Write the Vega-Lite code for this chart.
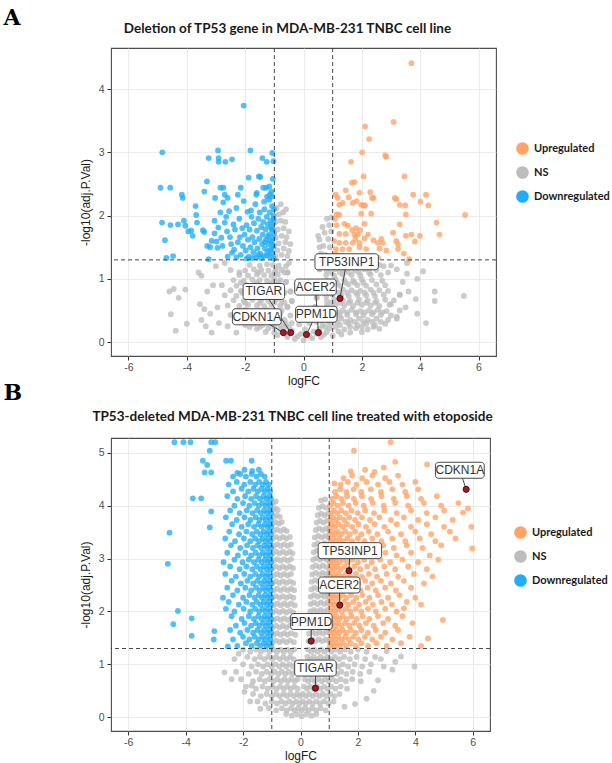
{
"$schema":"https://vega.github.io/schema/vega-lite/v6.json",
"background":"white",
"padding":{"left":3,"top":6,"right":0,"bottom":3},
"config":{
 "font":"Liberation Sans",
 "view":{"stroke":"#4d4d4d","strokeWidth":1.1},
 "axis":{"domain":false,"tickColor":"#333333","tickSize":4,"labelColor":"#4d4d4d","labelFontSize":10.5,"labelFont":"Liberation Sans","titleFont":"Liberation Sans","titleFontSize":12,"titleFontWeight":"normal","titleColor":"#1a1a1a","gridWidth":0.8,"labelOverlap":false},
 "legend":{"labelFont":"Lato","labelFontSize":11,"labelFontWeight":"bold","labelColor":"#1a1a1a"},
 "concat":{"spacing":-7}
},
"datasets":{
"a":[
{"x":-0.55,"y":0.08},{"x":-0.3,"y":0.05},{"x":0,"y":0.03},{"x":0.3,"y":0.06},{"x":0.6,"y":0.08},
{"x":-0.9,"y":0.11},{"x":-0.6,"y":0.12},{"x":-0.2,"y":0.09},{"x":-0.1,"y":0.13},{"x":0.2,"y":0.1},{"x":0.45,"y":0.13},{"x":0.7,"y":0.12},{"x":1,"y":0.1},{"x":1.3,"y":0.12},
{"x":-1.3,"y":0.16},{"x":-1,"y":0.15},{"x":-0.4,"y":0.18},{"x":0.35,"y":0.17},{"x":0.8,"y":0.16},{"x":1.2,"y":0.17},{"x":1.6,"y":0.15},{"x":2,"y":0.16},
{"x":-1.6,"y":0.21},{"x":-1.2,"y":0.22},{"x":-0.8,"y":0.2},{"x":-0.5,"y":0.23},{"x":0.05,"y":0.2},{"x":0.55,"y":0.21},{"x":0.9,"y":0.22},{"x":1.4,"y":0.2},{"x":1.8,"y":0.22},{"x":2.2,"y":0.2},{"x":2.6,"y":0.21},
{"x":-2,"y":0.27},{"x":-1.7,"y":0.29},{"x":-1.4,"y":0.27},{"x":-1.1,"y":0.29},{"x":-0.8,"y":0.27},{"x":-0.6,"y":0.29},{"x":-0.4,"y":0.3},{"x":-0.15,"y":0.28},{"x":0.2,"y":0.3},{"x":0.45,"y":0.32},{"x":0.65,"y":0.27},{"x":0.95,"y":0.29},{"x":1.25,"y":0.27},{"x":1.55,"y":0.29},{"x":1.85,"y":0.27},{"x":2.15,"y":0.29},{"x":2.45,"y":0.27},{"x":2.8,"y":0.29},
{"x":-2.2,"y":0.35},{"x":-1.9,"y":0.37},{"x":-1.6,"y":0.35},{"x":-1.35,"y":0.37},{"x":-1.1,"y":0.35},{"x":-0.85,"y":0.37},{"x":-0.65,"y":0.35},{"x":0.7,"y":0.37},{"x":1,"y":0.35},{"x":1.3,"y":0.37},{"x":1.6,"y":0.35},{"x":1.9,"y":0.37},{"x":2.2,"y":0.35},{"x":2.5,"y":0.37},{"x":2.9,"y":0.35},{"x":3.2,"y":0.37},
{"x":-2.5,"y":0.43},{"x":-2.1,"y":0.44},{"x":-1.8,"y":0.42},{"x":-1.55,"y":0.44},{"x":-1.3,"y":0.43},{"x":-1.05,"y":0.42},{"x":-0.8,"y":0.44},{"x":-0.45,"y":0.42},{"x":0.4,"y":0.41},{"x":0.72,"y":0.43},{"x":1,"y":0.44},{"x":1.25,"y":0.42},{"x":1.5,"y":0.43},{"x":1.8,"y":0.44},{"x":2.05,"y":0.42},{"x":2.35,"y":0.44},{"x":2.65,"y":0.43},{"x":3,"y":0.42},
{"x":-2.3,"y":0.5},{"x":-2,"y":0.51},{"x":-1.75,"y":0.49},{"x":-1.5,"y":0.5},{"x":-1.25,"y":0.51},{"x":-1,"y":0.49},{"x":-0.75,"y":0.5},{"x":0.75,"y":0.51},{"x":1.05,"y":0.49},{"x":1.35,"y":0.5},{"x":1.65,"y":0.51},{"x":1.95,"y":0.49},{"x":2.25,"y":0.5},{"x":2.55,"y":0.51},{"x":2.85,"y":0.49},{"x":3.3,"y":0.5},
{"x":-2.6,"y":0.58},{"x":-2.2,"y":0.57},{"x":-1.9,"y":0.59},{"x":-1.6,"y":0.58},{"x":-1.35,"y":0.57},{"x":-1.1,"y":0.59},{"x":-0.8,"y":0.58},{"x":-0.55,"y":0.56},{"x":0.4,"y":0.56},{"x":0.8,"y":0.57},{"x":1.1,"y":0.59},{"x":1.4,"y":0.58},{"x":1.7,"y":0.57},{"x":2,"y":0.59},{"x":2.3,"y":0.58},{"x":2.6,"y":0.57},{"x":2.95,"y":0.59},
{"x":-2.4,"y":0.66},{"x":-2.05,"y":0.65},{"x":-1.75,"y":0.67},{"x":-1.45,"y":0.66},{"x":-1.2,"y":0.65},{"x":-0.95,"y":0.67},{"x":-0.75,"y":0.66},{"x":-0.4,"y":0.65},{"x":0.45,"y":0.7},{"x":0.8,"y":0.65},{"x":1.05,"y":0.67},{"x":1.35,"y":0.66},{"x":1.6,"y":0.65},{"x":1.9,"y":0.67},{"x":2.2,"y":0.66},{"x":2.5,"y":0.65},{"x":2.8,"y":0.67},{"x":3.1,"y":0.66},
{"x":-2.7,"y":0.74},{"x":-2.3,"y":0.73},{"x":-1.95,"y":0.75},{"x":-1.65,"y":0.74},{"x":-1.4,"y":0.73},{"x":-1.15,"y":0.75},{"x":-0.9,"y":0.74},{"x":0.78,"y":0.73},{"x":1,"y":0.75},{"x":1.3,"y":0.74},{"x":1.55,"y":0.73},{"x":1.85,"y":0.75},{"x":2.15,"y":0.74},{"x":2.45,"y":0.73},{"x":2.75,"y":0.75},{"x":3.3,"y":0.75},
{"x":-2.5,"y":0.82},{"x":-2.15,"y":0.81},{"x":-1.85,"y":0.83},{"x":-1.55,"y":0.82},{"x":-1.3,"y":0.81},{"x":-1.05,"y":0.83},{"x":-0.8,"y":0.82},{"x":-0.45,"y":0.8},{"x":0.6,"y":0.8},{"x":0.8,"y":0.82},{"x":1.05,"y":0.81},{"x":1.35,"y":0.83},{"x":1.65,"y":0.82},{"x":1.95,"y":0.81},{"x":2.3,"y":0.83},{"x":2.6,"y":0.82},{"x":2.9,"y":0.81},
{"x":-2.8,"y":0.9},{"x":-2.3,"y":0.89},{"x":-2,"y":0.91},{"x":-1.7,"y":0.9},{"x":-1.45,"y":0.89},{"x":-1.2,"y":0.91},{"x":-0.95,"y":0.9},{"x":-0.75,"y":0.89},{"x":0.75,"y":0.91},{"x":1,"y":0.9},{"x":1.25,"y":0.89},{"x":1.55,"y":0.91},{"x":1.85,"y":0.9},{"x":2.15,"y":0.89},{"x":2.5,"y":0.91},{"x":2.8,"y":0.9},
{"x":-2.4,"y":0.98},{"x":-2.05,"y":0.97},{"x":-1.75,"y":0.99},{"x":-1.5,"y":0.98},{"x":-1.25,"y":0.97},{"x":-1,"y":0.99},{"x":-0.8,"y":0.98},{"x":-0.6,"y":0.95},{"x":0.5,"y":0.95},{"x":0.8,"y":0.97},{"x":1.1,"y":0.99},{"x":1.4,"y":0.98},{"x":1.7,"y":0.97},{"x":2,"y":0.99},{"x":2.35,"y":0.98},{"x":2.7,"y":0.97},
{"x":-2.2,"y":1.06},{"x":-1.9,"y":1.05},{"x":-1.6,"y":1.07},{"x":-1.35,"y":1.06},{"x":-1.1,"y":1.05},{"x":-0.88,"y":1.07},{"x":0.78,"y":1.06},{"x":1.05,"y":1.05},{"x":1.35,"y":1.07},{"x":1.65,"y":1.06},{"x":1.95,"y":1.05},{"x":2.3,"y":1.07},{"x":2.65,"y":1.06},
{"x":-2.5,"y":1.14},{"x":-2,"y":1.13},{"x":-1.7,"y":1.15},{"x":-1.45,"y":1.14},{"x":-1.2,"y":1.13},{"x":-0.95,"y":1.15},{"x":-0.75,"y":1.14},{"x":-0.55,"y":1.1},{"x":0.55,"y":1.15},{"x":0.8,"y":1.13},{"x":1.1,"y":1.15},{"x":1.4,"y":1.14},{"x":1.75,"y":1.13},{"x":2.1,"y":1.15},{"x":2.5,"y":1.14},
{"x":-1.85,"y":1.22},{"x":-1.5,"y":1.21},{"x":-1.25,"y":1.23},{"x":-1.05,"y":1.22},{"x":-0.85,"y":1.21},{"x":-0.6,"y":1.2},{"x":-0.5,"y":1.25},{"x":0.5,"y":1.25},{"x":0.75,"y":1.22},{"x":1,"y":1.21},{"x":1.3,"y":1.23},{"x":1.6,"y":1.22},{"x":1.9,"y":1.21},{"x":2.2,"y":1.23},{"x":2.6,"y":1.22},{"x":3,"y":1.21},
{"x":-1.85,"y":0.24},{"x":-1.5,"y":0.24},{"x":-1,"y":0.24},{"x":-0.65,"y":0.24},{"x":0.75,"y":0.24},{"x":1.1,"y":0.24},{"x":1.6,"y":0.24},{"x":2,"y":0.24},{"x":2.4,"y":0.24},
{"x":-1.75,"y":0.32},{"x":-1.25,"y":0.32},{"x":-0.95,"y":0.32},{"x":0.85,"y":0.32},{"x":1.15,"y":0.32},{"x":1.45,"y":0.32},{"x":1.75,"y":0.32},{"x":2.05,"y":0.32},{"x":2.35,"y":0.32},{"x":2.65,"y":0.32},
{"x":-2.15,"y":0.47},{"x":-1.6,"y":0.47},{"x":-1.15,"y":0.47},{"x":-0.9,"y":0.47},{"x":0.9,"y":0.47},{"x":1.2,"y":0.47},{"x":1.5,"y":0.47},{"x":1.8,"y":0.47},{"x":2.1,"y":0.47},{"x":2.4,"y":0.47},{"x":2.7,"y":0.47},
{"x":-2,"y":0.62},{"x":-1.5,"y":0.62},{"x":-1,"y":0.62},{"x":-0.65,"y":0.62},{"x":0.95,"y":0.62},{"x":1.25,"y":0.62},{"x":1.55,"y":0.62},{"x":1.85,"y":0.62},{"x":2.15,"y":0.62},{"x":2.45,"y":0.62},
{"x":-2.1,"y":0.78},{"x":-1.55,"y":0.78},{"x":-1,"y":0.78},{"x":-0.65,"y":0.78},{"x":0.9,"y":0.78},{"x":1.2,"y":0.78},{"x":1.5,"y":0.78},{"x":1.8,"y":0.78},{"x":2.1,"y":0.78},{"x":2.4,"y":0.78},
{"x":-2.15,"y":0.94},{"x":-1.6,"y":0.94},{"x":-1.1,"y":0.94},{"x":-0.85,"y":0.94},{"x":0.9,"y":0.94},{"x":1.15,"y":0.94},{"x":1.45,"y":0.94},{"x":1.75,"y":0.94},{"x":2.05,"y":0.94},
{"x":-2.2,"y":1.1},{"x":-1.55,"y":1.1},{"x":-1,"y":1.1},{"x":-0.65,"y":1.1},{"x":0.95,"y":1.1},{"x":1.25,"y":1.1},{"x":1.55,"y":1.1},{"x":1.9,"y":1.1},{"x":2.25,"y":1.1},
{"x":-0.95,"y":1.35},{"x":-0.75,"y":1.38},{"x":-0.55,"y":1.36},{"x":-0.9,"y":1.45},{"x":-0.68,"y":1.48},{"x":-0.5,"y":1.44},{"x":-0.85,"y":1.56},{"x":-0.62,"y":1.58},{"x":-0.95,"y":1.65},{"x":-0.75,"y":1.68},{"x":-0.58,"y":1.66},{"x":-0.88,"y":1.78},{"x":-0.68,"y":1.8},{"x":-0.95,"y":1.9},{"x":-0.78,"y":1.92},{"x":-0.62,"y":1.9},{"x":-0.85,"y":2.02},{"x":-0.7,"y":2.05},{"x":-0.92,"y":2.12},{"x":-0.78,"y":2.18},{"x":-0.6,"y":2.1},{"x":-0.45,"y":1.55},{"x":-0.5,"y":1.75},
{"x":-0.6,"y":0.95},{"x":-0.55,"y":1.1},{"x":-0.45,"y":0.8},{"x":-0.4,"y":0.65},{"x":-0.55,"y":0.55},
{"x":0.95,"y":1.35},{"x":0.75,"y":1.38},{"x":0.6,"y":1.4},{"x":0.9,"y":1.5},{"x":0.68,"y":1.52},{"x":0.55,"y":1.62},{"x":0.85,"y":1.63},{"x":0.95,"y":1.75},{"x":0.72,"y":1.73},{"x":0.88,"y":1.85},{"x":0.65,"y":1.82},{"x":0.95,"y":1.97},{"x":0.8,"y":1.95},{"x":0.55,"y":1.5},{"x":0.5,"y":1.68},
{"x":0.55,"y":1.15},{"x":0.5,"y":0.95},{"x":0.6,"y":0.8},{"x":0.45,"y":0.7},{"x":0.4,"y":0.55},
{"x":3.2,"y":1.15},{"x":3.4,"y":0.95},{"x":3.3,"y":0.75},{"x":3,"y":0.6},{"x":3.5,"y":0.55},{"x":2.9,"y":1.1},{"x":3.2,"y":0.4},{"x":3.6,"y":0.8},{"x":2.75,"y":1.2},{"x":3.55,"y":1.08},
{"x":3.9,"y":1},{"x":4.1,"y":1.12},{"x":3.55,"y":1.25},{"x":4.5,"y":0.8},{"x":4.5,"y":0.65},{"x":5.5,"y":0.73},{"x":3.85,"y":0.68},{"x":3.9,"y":0.45},{"x":4.2,"y":0.3},
{"x":-4.6,"y":0.8},{"x":-4.45,"y":0.84},{"x":-4.28,"y":0.7},{"x":-4.05,"y":0.83},{"x":-4.55,"y":0.44},{"x":-4.38,"y":0.18},{"x":-4,"y":0.29},{"x":-3.6,"y":1.1},{"x":-3.5,"y":1.05},{"x":-3.4,"y":0.52},{"x":-3.3,"y":0.8},{"x":-3.2,"y":0.45},{"x":-3.55,"y":0.6},{"x":-3,"y":1.2},{"x":-3.1,"y":0.9},{"x":-2.95,"y":0.55},{"x":-3.35,"y":0.25},{"x":-2.9,"y":0.3},{"x":-3.15,"y":0.15},{"x":-2.7,"y":1.25},{"x":-2.6,"y":0.25},{"x":-2.3,"y":0.15},{"x":-3.5,"y":0.35},
{"x":-2.05,"y":3.74},{"x":-4.84,"y":3},{"x":-2.93,"y":3.03},{"x":-3.25,"y":2.91},{"x":-2.91,"y":2.91},{"x":-2.91,"y":2.85},{"x":-2.68,"y":2.85},{"x":-2.45,"y":2.89},{"x":-1.82,"y":3.03},{"x":-1.41,"y":2.91},{"x":-1.26,"y":2.85},{"x":-1.07,"y":2.99},{"x":-1.03,"y":2.86},{"x":-4.9,"y":2.44},{"x":-4.57,"y":2.44},{"x":-4.17,"y":2.33},{"x":-4.14,"y":2.28},{"x":-3.31,"y":2.54},{"x":-3.4,"y":2.38},{"x":-3.03,"y":2.28},{"x":-2.85,"y":2.44},{"x":-2.75,"y":2.44},{"x":-2.7,"y":2.33},{"x":-2.6,"y":2.28},{"x":-2.25,"y":2.33},{"x":-2.15,"y":2.44},{"x":-1.88,"y":2.6},{"x":-1.53,"y":2.62},{"x":-1.48,"y":2.61},{"x":-1.38,"y":2.44},{"x":-1.28,"y":2.44},{"x":-1.17,"y":2.46},{"x":-1.1,"y":2.38},{"x":-1.05,"y":2.58},{"x":-1.6,"y":2.36},{"x":-1.62,"y":2.33},{"x":-1.25,"y":2.3},{"x":-1.18,"y":2.25},{"x":-1.35,"y":2.22},
{"x":-4.85,"y":1.89},{"x":-4.56,"y":1.85},{"x":-4.3,"y":1.86},{"x":-4.1,"y":1.92},{"x":-4.05,"y":1.84},{"x":-4.75,"y":1.61},{"x":-4.7,"y":1.33},{"x":-4.47,"y":1.36},{"x":-3.95,"y":1.75},{"x":-3.85,"y":1.76},{"x":-3.8,"y":1.68},{"x":-3.7,"y":2.15},{"x":-3.68,"y":2.01},{"x":-3.65,"y":1.89},{"x":-3.45,"y":1.77},{"x":-3.4,"y":1.74},{"x":-3.3,"y":1.52},{"x":-3.25,"y":1.31},{"x":-3.2,"y":1.5},{"x":-3.15,"y":1.6},{"x":-3.05,"y":1.92},{"x":-3.05,"y":1.72},{"x":-2.98,"y":1.59},{"x":-2.95,"y":1.49},{"x":-2.92,"y":1.81},{"x":-2.85,"y":2.05},{"x":-2.82,"y":1.65},{"x":-2.78,"y":1.52},{"x":-2.75,"y":2.21},{"x":-2.7,"y":1.89},{"x":-2.65,"y":1.98},{"x":-2.62,"y":1.75},{"x":-2.55,"y":2.07},{"x":-2.52,"y":1.66},{"x":-2.48,"y":1.55},{"x":-2.45,"y":1.41},{"x":-2.4,"y":1.86},{"x":-2.38,"y":1.46},{"x":-2.35,"y":1.78},{"x":-2.3,"y":2.12},{"x":-2.25,"y":1.58},{"x":-2.2,"y":1.95},{"x":-2.18,"y":1.66},{"x":-2.15,"y":1.38},{"x":-2.1,"y":1.8},{"x":-2.08,"y":1.52},{"x":-2.05,"y":2.23},{"x":-2.02,"y":1.7},{"x":-1.98,"y":1.45},{"x":-1.95,"y":1.85},{"x":-1.92,"y":2.06},{"x":-1.9,"y":1.62},{"x":-1.88,"y":1.35},{"x":-1.85,"y":1.78},{"x":-1.82,"y":1.5},{"x":-1.8,"y":2.08},{"x":-1.78,"y":1.98},{"x":-1.75,"y":1.66},{"x":-1.72,"y":1.42},{"x":-1.7,"y":1.88},{"x":-1.68,"y":1.58},{"x":-1.65,"y":2.18},{"x":-1.62,"y":1.34},{"x":-1.6,"y":1.76},{"x":-1.58,"y":1.48},{"x":-1.55,"y":1.95},{"x":-1.52,"y":1.63},{"x":-1.5,"y":2.05},{"x":-1.48,"y":1.4},{"x":-1.45,"y":1.82},{"x":-1.42,"y":1.55},{"x":-1.4,"y":1.7},{"x":-1.38,"y":1.9},{"x":-1.36,"y":1.36},{"x":-1.34,"y":2.1},{"x":-1.32,"y":1.48},{"x":-1.3,"y":1.78},{"x":-1.28,"y":1.62},{"x":-1.26,"y":1.98},{"x":-1.24,"y":1.42},{"x":-1.22,"y":1.86},{"x":-1.2,"y":1.55},{"x":-1.18,"y":1.7},{"x":-1.16,"y":2.05},{"x":-1.15,"y":1.35},{"x":-1.13,"y":1.92},{"x":-1.12,"y":1.6},{"x":-1.1,"y":1.48},{"x":-1.09,"y":1.78},{"x":-1.08,"y":2.15},{"x":-1.06,"y":1.4},{"x":-1.05,"y":1.65},{"x":-1.04,"y":1.88},{"x":-1.03,"y":2},{"x":-1.02,"y":1.52},{"x":-1.02,"y":1.32},{"x":-1.01,"y":2.1},{"x":-1.01,"y":1.72},{"x":-1.08,"y":1.57},{"x":-1.14,"y":1.45},{"x":-1.25,"y":1.37},{"x":-1.45,"y":1.33},{"x":-1.55,"y":1.38},{"x":-1.75,"y":1.33},{"x":-1.95,"y":1.32},{"x":-2.3,"y":1.34},{"x":-2.6,"y":1.35},{"x":-1.02,"y":1.95},{"x":-1.05,"y":1.78},{"x":-1.12,"y":1.82},{"x":-1.22,"y":1.67},{"x":-1.33,"y":1.58},{"x":-1.15,"y":2.33},{"x":-1.08,"y":2.3},
{"x":3.7,"y":4.41},{"x":3.09,"y":3.48},{"x":2.11,"y":3.41},{"x":2.25,"y":3.21},{"x":2.01,"y":3},{"x":2.84,"y":2.93},{"x":2.8,"y":2.95},{"x":1.63,"y":2.85},{"x":2.06,"y":2.62},{"x":1.75,"y":2.53},{"x":1.66,"y":2.52},{"x":3.46,"y":2.62},{"x":1.11,"y":2.33},{"x":1.17,"y":2.28},{"x":1.55,"y":2.29},{"x":1.92,"y":2.36},{"x":2.29,"y":2.37},{"x":2.4,"y":2.28},{"x":2.35,"y":2.28},{"x":3.76,"y":2.33},{"x":4.2,"y":2.33},{"x":4.01,"y":2.22},{"x":4.28,"y":2.16},{"x":3.13,"y":2.28},{"x":3.18,"y":2.26},{"x":3.3,"y":2.17},{"x":3.49,"y":2.16},{"x":3.51,"y":2.02},{"x":1.82,"y":2.23},{"x":1.98,"y":2.17},{"x":2.06,"y":2.16},{"x":2.11,"y":2.16},{"x":1.23,"y":2.17},{"x":1.34,"y":2.2},{"x":1.69,"y":2.2},{"x":2.32,"y":2.03},{"x":1.98,"y":2.03},{"x":1.14,"y":2.02},{"x":1.23,"y":2.01},{"x":1.14,"y":1.85},{"x":1.4,"y":1.87},{"x":1.52,"y":1.84},{"x":1.67,"y":1.77},{"x":1.8,"y":1.8},{"x":2.09,"y":1.87},{"x":1.94,"y":1.77},{"x":3.3,"y":1.86},{"x":4.56,"y":1.89},{"x":5.54,"y":2.01},{"x":4.66,"y":1.7},{"x":3.07,"y":1.73},{"x":3.51,"y":1.68},{"x":3.7,"y":1.7},{"x":3.99,"y":1.68},{"x":3.82,"y":1.59},{"x":1.23,"y":1.71},{"x":1.45,"y":1.71},{"x":1.75,"y":1.7},{"x":1.86,"y":1.7},{"x":1.78,"y":1.63},{"x":2.09,"y":1.64},{"x":2.21,"y":1.7},{"x":1.23,"y":1.57},{"x":1.45,"y":1.57},{"x":1.69,"y":1.57},{"x":1.92,"y":1.57},{"x":2.4,"y":1.61},{"x":2.55,"y":1.57},{"x":2.67,"y":1.63},{"x":2.72,"y":1.57},{"x":3.18,"y":1.6},{"x":3.24,"y":1.55},{"x":1.11,"y":1.47},{"x":1.34,"y":1.47},{"x":1.57,"y":1.47},{"x":1.92,"y":1.5},{"x":2.15,"y":1.47},{"x":2.61,"y":1.48},{"x":2.84,"y":1.45},{"x":3.24,"y":1.47},{"x":3.44,"y":1.4},{"x":3.62,"y":1.31},{"x":2.55,"y":1.34},{"x":1.11,"y":1.39},{"x":1.29,"y":1.36},{"x":1.05,"y":1.6},{"x":1.08,"y":1.95},{"x":1.45,"y":2.4}
],
"b":[
{"x":-0.95,"y":4.05},{"x":-0.86,"y":4.08},
{"x":-0.97,"y":3.92},{"x":-0.88,"y":3.95},{"x":-0.79,"y":3.92},
{"x":-0.93,"y":3.79},{"x":-0.83,"y":3.82},{"x":-0.72,"y":3.79},
{"x":-0.97,"y":3.66},{"x":-0.86,"y":3.69},{"x":-0.75,"y":3.66},{"x":-0.65,"y":3.69},
{"x":-0.93,"y":3.52},{"x":-0.82,"y":3.55},{"x":-0.7,"y":3.52},{"x":-0.58,"y":3.55},{"x":-0.48,"y":3.52},
{"x":-0.97,"y":3.38},{"x":-0.85,"y":3.41},{"x":-0.73,"y":3.38},{"x":-0.61,"y":3.41},{"x":-0.49,"y":3.38},{"x":-0.37,"y":3.41},
{"x":-0.93,"y":3.24},{"x":-0.81,"y":3.27},{"x":-0.69,"y":3.24},{"x":-0.57,"y":3.27},{"x":-0.45,"y":3.24},{"x":-0.33,"y":3.27},
{"x":-0.97,"y":3.1},{"x":-0.85,"y":3.13},{"x":-0.73,"y":3.1},{"x":-0.61,"y":3.13},{"x":-0.49,"y":3.1},{"x":-0.37,"y":3.13},{"x":-0.28,"y":3.1},
{"x":-0.93,"y":2.96},{"x":-0.81,"y":2.99},{"x":-0.69,"y":2.96},{"x":-0.57,"y":2.99},{"x":-0.45,"y":2.96},{"x":-0.33,"y":2.99},
{"x":-0.97,"y":2.82},{"x":-0.85,"y":2.85},{"x":-0.73,"y":2.82},{"x":-0.61,"y":2.85},{"x":-0.49,"y":2.82},{"x":-0.37,"y":2.85},{"x":-0.26,"y":2.82},
{"x":-0.93,"y":2.68},{"x":-0.81,"y":2.71},{"x":-0.69,"y":2.68},{"x":-0.57,"y":2.71},{"x":-0.45,"y":2.68},{"x":-0.33,"y":2.71},
{"x":-0.97,"y":2.54},{"x":-0.85,"y":2.57},{"x":-0.73,"y":2.54},{"x":-0.61,"y":2.57},{"x":-0.49,"y":2.54},{"x":-0.37,"y":2.57},{"x":-0.25,"y":2.54},
{"x":-0.93,"y":2.4},{"x":-0.81,"y":2.43},{"x":-0.69,"y":2.4},{"x":-0.57,"y":2.43},{"x":-0.45,"y":2.4},{"x":-0.33,"y":2.43},{"x":-0.22,"y":2.4},
{"x":-0.97,"y":2.26},{"x":-0.85,"y":2.29},{"x":-0.73,"y":2.26},{"x":-0.61,"y":2.29},{"x":-0.49,"y":2.26},{"x":-0.37,"y":2.29},{"x":-0.25,"y":2.26},
{"x":-0.93,"y":2.12},{"x":-0.81,"y":2.15},{"x":-0.69,"y":2.12},{"x":-0.57,"y":2.15},{"x":-0.45,"y":2.12},{"x":-0.33,"y":2.15},{"x":-0.2,"y":2.12},
{"x":-0.97,"y":1.98},{"x":-0.85,"y":2.01},{"x":-0.73,"y":1.98},{"x":-0.61,"y":2.01},{"x":-0.49,"y":1.98},{"x":-0.37,"y":2.01},{"x":-0.25,"y":1.98},
{"x":-0.93,"y":1.84},{"x":-0.81,"y":1.87},{"x":-0.69,"y":1.84},{"x":-0.57,"y":1.87},{"x":-0.45,"y":1.84},{"x":-0.33,"y":1.87},{"x":-0.19,"y":1.84},
{"x":-0.97,"y":1.7},{"x":-0.85,"y":1.73},{"x":-0.73,"y":1.7},{"x":-0.61,"y":1.73},{"x":-0.49,"y":1.7},{"x":-0.37,"y":1.73},{"x":-0.24,"y":1.7},
{"x":-0.93,"y":1.56},{"x":-0.81,"y":1.59},{"x":-0.69,"y":1.56},{"x":-0.57,"y":1.59},{"x":-0.45,"y":1.56},{"x":-0.33,"y":1.59},{"x":-0.18,"y":1.56},
{"x":-0.97,"y":1.42},{"x":-0.85,"y":1.45},{"x":-0.73,"y":1.42},{"x":-0.61,"y":1.45},{"x":-0.49,"y":1.42},{"x":-0.37,"y":1.45},{"x":-0.23,"y":1.42},
{"x":0.72,"y":4.1},{"x":0.86,"y":4.12},
{"x":0.64,"y":3.96},{"x":0.77,"y":3.99},{"x":0.9,"y":3.96},
{"x":0.6,"y":3.82},{"x":0.72,"y":3.85},{"x":0.84,"y":3.82},{"x":0.96,"y":3.85},
{"x":0.56,"y":3.68},{"x":0.68,"y":3.71},{"x":0.8,"y":3.68},{"x":0.92,"y":3.71},
{"x":0.53,"y":3.54},{"x":0.65,"y":3.57},{"x":0.77,"y":3.54},{"x":0.89,"y":3.57},{"x":0.98,"y":3.54},
{"x":0.5,"y":3.4},{"x":0.62,"y":3.43},{"x":0.74,"y":3.4},{"x":0.86,"y":3.43},{"x":0.97,"y":3.4},
{"x":0.48,"y":3.26},{"x":0.6,"y":3.29},{"x":0.72,"y":3.26},{"x":0.84,"y":3.29},{"x":0.95,"y":3.26},
{"x":0.46,"y":3.12},{"x":0.58,"y":3.15},{"x":0.7,"y":3.12},{"x":0.82,"y":3.15},{"x":0.94,"y":3.12},
{"x":0.44,"y":2.98},{"x":0.56,"y":3.01},{"x":0.68,"y":2.98},{"x":0.8,"y":3.01},{"x":0.92,"y":2.98},
{"x":0.42,"y":2.84},{"x":0.54,"y":2.87},{"x":0.66,"y":2.84},{"x":0.78,"y":2.87},{"x":0.9,"y":2.84},
{"x":0.41,"y":2.7},{"x":0.53,"y":2.73},{"x":0.65,"y":2.7},{"x":0.77,"y":2.73},{"x":0.89,"y":2.7},{"x":0.98,"y":2.73},
{"x":0.39,"y":2.56},{"x":0.51,"y":2.59},{"x":0.63,"y":2.56},{"x":0.75,"y":2.59},{"x":0.87,"y":2.56},{"x":0.97,"y":2.59},
{"x":0.38,"y":2.42},{"x":0.5,"y":2.45},{"x":0.62,"y":2.42},{"x":0.74,"y":2.45},{"x":0.86,"y":2.42},{"x":0.96,"y":2.45},
{"x":0.36,"y":2.28},{"x":0.48,"y":2.31},{"x":0.6,"y":2.28},{"x":0.72,"y":2.31},{"x":0.84,"y":2.28},{"x":0.95,"y":2.31},
{"x":0.35,"y":2.14},{"x":0.47,"y":2.17},{"x":0.59,"y":2.14},{"x":0.71,"y":2.17},{"x":0.83,"y":2.14},{"x":0.94,"y":2.17},
{"x":0.34,"y":2},{"x":0.46,"y":2.03},{"x":0.58,"y":2},{"x":0.7,"y":2.03},{"x":0.82,"y":2},{"x":0.94,"y":2.03},
{"x":0.32,"y":1.86},{"x":0.44,"y":1.89},{"x":0.56,"y":1.86},{"x":0.68,"y":1.89},{"x":0.8,"y":1.86},{"x":0.92,"y":1.89},
{"x":0.31,"y":1.72},{"x":0.43,"y":1.75},{"x":0.55,"y":1.72},{"x":0.67,"y":1.75},{"x":0.79,"y":1.72},{"x":0.91,"y":1.75},
{"x":0.3,"y":1.58},{"x":0.42,"y":1.61},{"x":0.54,"y":1.58},{"x":0.66,"y":1.61},{"x":0.78,"y":1.58},{"x":0.9,"y":1.61},
{"x":0.28,"y":1.44},{"x":0.4,"y":1.47},{"x":0.52,"y":1.44},{"x":0.64,"y":1.47},{"x":0.76,"y":1.44},{"x":0.88,"y":1.47},{"x":0.98,"y":1.44},
{"x":-2,"y":1.28},{"x":-1.75,"y":1.24},{"x":-1.55,"y":1.28},{"x":-1.38,"y":1.24},{"x":-1.22,"y":1.28},{"x":-1.08,"y":1.24},{"x":-0.95,"y":1.28},{"x":-0.82,"y":1.24},{"x":-0.7,"y":1.28},{"x":-0.58,"y":1.24},{"x":-0.46,"y":1.28},{"x":-0.34,"y":1.24},{"x":-0.22,"y":1.28},{"x":0.26,"y":1.28},{"x":0.37,"y":1.24},{"x":0.48,"y":1.28},{"x":0.6,"y":1.24},{"x":0.72,"y":1.28},{"x":0.84,"y":1.24},{"x":0.96,"y":1.28},{"x":1.08,"y":1.24},{"x":1.22,"y":1.28},{"x":1.38,"y":1.24},{"x":1.55,"y":1.28},{"x":1.75,"y":1.24},{"x":2,"y":1.28},{"x":2.3,"y":1.24},
{"x":-1.85,"y":1.14},{"x":-1.6,"y":1.1},{"x":-1.42,"y":1.14},{"x":-1.26,"y":1.1},{"x":-1.12,"y":1.14},{"x":-0.98,"y":1.1},{"x":-0.85,"y":1.14},{"x":-0.72,"y":1.1},{"x":-0.6,"y":1.14},{"x":-0.48,"y":1.1},{"x":-0.36,"y":1.14},{"x":-0.24,"y":1.1},{"x":0.24,"y":1.14},{"x":0.35,"y":1.1},{"x":0.46,"y":1.14},{"x":0.58,"y":1.1},{"x":0.7,"y":1.14},{"x":0.82,"y":1.1},{"x":0.94,"y":1.14},{"x":1.06,"y":1.1},{"x":1.2,"y":1.14},{"x":1.35,"y":1.1},{"x":1.52,"y":1.14},{"x":1.72,"y":1.1},{"x":1.95,"y":1.14},{"x":2.25,"y":1.1},{"x":2.6,"y":1.14},
{"x":-2,"y":1},{"x":-1.7,"y":0.96},{"x":-1.48,"y":1},{"x":-1.3,"y":0.96},{"x":-1.15,"y":1},{"x":-1,"y":0.96},{"x":-0.87,"y":1},{"x":-0.74,"y":0.96},{"x":-0.62,"y":1},{"x":-0.5,"y":0.96},{"x":-0.38,"y":1},{"x":-0.26,"y":0.96},{"x":-0.16,"y":1},{"x":0.22,"y":1},{"x":0.33,"y":0.96},{"x":0.44,"y":1},{"x":0.56,"y":0.96},{"x":0.68,"y":1},{"x":0.8,"y":0.96},{"x":0.92,"y":1},{"x":1.05,"y":0.96},{"x":1.18,"y":1},{"x":1.32,"y":0.96},{"x":1.48,"y":1},{"x":1.66,"y":0.96},{"x":1.88,"y":1},{"x":2.15,"y":0.96},{"x":2.45,"y":1},{"x":2.9,"y":0.96},
{"x":-2.24,"y":0.86},{"x":-1.8,"y":0.82},{"x":-1.55,"y":0.86},{"x":-1.35,"y":0.82},{"x":-1.18,"y":0.86},{"x":-1.03,"y":0.82},{"x":-0.9,"y":0.86},{"x":-0.77,"y":0.82},{"x":-0.65,"y":0.86},{"x":-0.53,"y":0.82},{"x":-0.41,"y":0.86},{"x":-0.29,"y":0.82},{"x":-0.18,"y":0.86},{"x":0.2,"y":0.86},{"x":0.3,"y":0.82},{"x":0.41,"y":0.86},{"x":0.52,"y":0.82},{"x":0.64,"y":0.86},{"x":0.76,"y":0.82},{"x":0.88,"y":0.86},{"x":1,"y":0.82},{"x":1.13,"y":0.86},{"x":1.27,"y":0.82},{"x":1.42,"y":0.86},{"x":1.6,"y":0.82},{"x":1.82,"y":0.86},{"x":2.08,"y":0.82},{"x":2.4,"y":0.86},
{"x":-2.07,"y":0.72},{"x":-1.65,"y":0.68},{"x":-1.42,"y":0.72},{"x":-1.24,"y":0.68},{"x":-1.08,"y":0.72},{"x":-0.94,"y":0.68},{"x":-0.81,"y":0.72},{"x":-0.68,"y":0.68},{"x":-0.56,"y":0.72},{"x":-0.44,"y":0.68},{"x":-0.32,"y":0.72},{"x":-0.2,"y":0.68},{"x":-0.1,"y":0.72},{"x":0.16,"y":0.72},{"x":0.27,"y":0.68},{"x":0.38,"y":0.72},{"x":0.5,"y":0.68},{"x":0.62,"y":0.72},{"x":0.74,"y":0.68},{"x":0.86,"y":0.72},{"x":0.98,"y":0.68},{"x":1.1,"y":0.72},{"x":1.24,"y":0.68},{"x":1.4,"y":0.72},{"x":1.58,"y":0.68},{"x":1.8,"y":0.72},{"x":2.1,"y":0.68},
{"x":-1.9,"y":0.58},{"x":-1.55,"y":0.54},{"x":-1.32,"y":0.58},{"x":-1.14,"y":0.54},{"x":-0.98,"y":0.58},{"x":-0.84,"y":0.54},{"x":-0.71,"y":0.58},{"x":-0.58,"y":0.54},{"x":-0.46,"y":0.58},{"x":-0.34,"y":0.54},{"x":-0.22,"y":0.58},{"x":-0.1,"y":0.54},{"x":0.12,"y":0.58},{"x":0.23,"y":0.54},{"x":0.34,"y":0.58},{"x":0.46,"y":0.54},{"x":0.58,"y":0.58},{"x":0.7,"y":0.54},{"x":0.82,"y":0.58},{"x":0.94,"y":0.54},{"x":1.07,"y":0.58},{"x":1.22,"y":0.54},{"x":1.4,"y":0.58},{"x":1.62,"y":0.54},
{"x":-1.65,"y":0.44},{"x":-1.38,"y":0.4},{"x":-1.18,"y":0.44},{"x":-1,"y":0.4},{"x":-0.85,"y":0.44},{"x":-0.72,"y":0.4},{"x":-0.59,"y":0.44},{"x":-0.47,"y":0.4},{"x":-0.35,"y":0.44},{"x":-0.23,"y":0.4},{"x":-0.12,"y":0.44},{"x":-0.02,"y":0.4},{"x":0.08,"y":0.44},{"x":0.19,"y":0.4},{"x":0.3,"y":0.44},{"x":0.42,"y":0.4},{"x":0.54,"y":0.44},{"x":0.66,"y":0.4},{"x":0.78,"y":0.44},{"x":0.9,"y":0.4},{"x":1.03,"y":0.44},{"x":1.18,"y":0.4},{"x":1.36,"y":0.44},
{"x":-1.5,"y":0.3},{"x":-1.22,"y":0.26},{"x":-1,"y":0.3},{"x":-0.82,"y":0.26},{"x":-0.66,"y":0.3},{"x":-0.52,"y":0.26},{"x":-0.39,"y":0.3},{"x":-0.27,"y":0.26},{"x":-0.15,"y":0.3},{"x":-0.04,"y":0.26},{"x":0.07,"y":0.3},{"x":0.18,"y":0.26},{"x":0.3,"y":0.3},{"x":0.42,"y":0.26},{"x":0.55,"y":0.3},{"x":0.68,"y":0.26},{"x":0.82,"y":0.3},{"x":0.98,"y":0.26},{"x":1.15,"y":0.3},
{"x":-1.1,"y":0.17},{"x":-0.85,"y":0.13},{"x":-0.65,"y":0.17},{"x":-0.48,"y":0.13},{"x":-0.33,"y":0.17},{"x":-0.2,"y":0.13},{"x":-0.08,"y":0.17},{"x":0.04,"y":0.13},{"x":0.16,"y":0.17},{"x":0.28,"y":0.13},{"x":0.41,"y":0.17},{"x":0.55,"y":0.13},{"x":0.7,"y":0.17},{"x":0.88,"y":0.13},
{"x":-0.5,"y":0.06},{"x":-0.3,"y":0.03},{"x":-0.12,"y":0.06},{"x":0.04,"y":0.02},{"x":0.2,"y":0.06},{"x":0.38,"y":0.03},{"x":0.55,"y":0.06},
{"x":-2.65,"y":0.85},{"x":-2.4,"y":0.72},{"x":-2.3,"y":1.1},{"x":-1.95,"y":0.48},{"x":-1.75,"y":0.3},{"x":-1.4,"y":0.16},{"x":-1.7,"y":0.6},{"x":-2.15,"y":1.2},
{"x":3.97,"y":0.96},{"x":3.5,"y":1.15},{"x":3.2,"y":0.9},{"x":2.7,"y":0.7},{"x":3,"y":1.25},{"x":2.55,"y":0.5},{"x":2.3,"y":0.35},{"x":1.9,"y":0.25},{"x":1.53,"y":0.2},{"x":3.3,"y":1.05},{"x":2.8,"y":1.1},
{"x":-1.03,"y":1.35},{"x":-1.1,"y":1.4},{"x":-1.19,"y":1.35},{"x":-1.28,"y":1.4},{"x":-1.4,"y":1.35},{"x":-1.52,"y":1.4},{"x":-1.7,"y":1.35},{"x":-1.9,"y":1.4},{"x":-2.2,"y":1.35},
{"x":-1.05,"y":1.47},{"x":-1.13,"y":1.52},{"x":-1.24,"y":1.47},{"x":-1.33,"y":1.52},{"x":-1.46,"y":1.47},{"x":-1.6,"y":1.52},{"x":-1.78,"y":1.47},{"x":-2,"y":1.52},{"x":-2.35,"y":1.47},
{"x":-1.02,"y":1.6},{"x":-1.09,"y":1.65},{"x":-1.17,"y":1.6},{"x":-1.27,"y":1.65},{"x":-1.37,"y":1.6},{"x":-1.5,"y":1.65},{"x":-1.65,"y":1.6},{"x":-1.85,"y":1.65},{"x":-2.1,"y":1.6},{"x":-2.45,"y":1.65},
{"x":-1.04,"y":1.73},{"x":-1.12,"y":1.78},{"x":-1.21,"y":1.73},{"x":-1.31,"y":1.78},{"x":-1.43,"y":1.73},{"x":-1.56,"y":1.78},{"x":-1.72,"y":1.73},{"x":-1.95,"y":1.78},{"x":-2.25,"y":1.73},
{"x":-1.02,"y":1.86},{"x":-1.08,"y":1.91},{"x":-1.16,"y":1.86},{"x":-1.25,"y":1.91},{"x":-1.35,"y":1.86},{"x":-1.47,"y":1.91},{"x":-1.62,"y":1.86},{"x":-1.8,"y":1.91},{"x":-2.05,"y":1.86},{"x":-2.4,"y":1.91},
{"x":-1.05,"y":2},{"x":-1.13,"y":2.05},{"x":-1.22,"y":2},{"x":-1.32,"y":2.05},{"x":-1.44,"y":2},{"x":-1.58,"y":2.05},{"x":-1.75,"y":2},{"x":-1.98,"y":2.05},{"x":-2.3,"y":2},{"x":-2.6,"y":2.05},
{"x":-1.03,"y":2.13},{"x":-1.1,"y":2.18},{"x":-1.18,"y":2.13},{"x":-1.28,"y":2.18},{"x":-1.39,"y":2.13},{"x":-1.52,"y":2.18},{"x":-1.68,"y":2.13},{"x":-1.88,"y":2.18},{"x":-2.15,"y":2.13},{"x":-2.5,"y":2.18},
{"x":-1.02,"y":2.26},{"x":-1.07,"y":2.31},{"x":-1.15,"y":2.26},{"x":-1.24,"y":2.31},{"x":-1.34,"y":2.26},{"x":-1.46,"y":2.31},{"x":-1.6,"y":2.26},{"x":-1.78,"y":2.31},{"x":-2,"y":2.26},{"x":-2.35,"y":2.31},{"x":-2.7,"y":2.26},
{"x":-1.04,"y":2.4},{"x":-1.12,"y":2.45},{"x":-1.21,"y":2.4},{"x":-1.3,"y":2.45},{"x":-1.42,"y":2.4},{"x":-1.55,"y":2.45},{"x":-1.72,"y":2.4},{"x":-1.92,"y":2.45},{"x":-2.2,"y":2.4},{"x":-2.55,"y":2.45},
{"x":-1.02,"y":2.53},{"x":-1.09,"y":2.58},{"x":-1.17,"y":2.53},{"x":-1.26,"y":2.58},{"x":-1.37,"y":2.53},{"x":-1.5,"y":2.58},{"x":-1.65,"y":2.53},{"x":-1.85,"y":2.58},{"x":-2.08,"y":2.53},{"x":-2.4,"y":2.58},
{"x":-1.05,"y":2.66},{"x":-1.13,"y":2.71},{"x":-1.22,"y":2.66},{"x":-1.32,"y":2.71},{"x":-1.44,"y":2.66},{"x":-1.58,"y":2.71},{"x":-1.75,"y":2.66},{"x":-1.96,"y":2.71},{"x":-2.25,"y":2.66},{"x":-2.62,"y":2.71},
{"x":-1.03,"y":2.8},{"x":-1.1,"y":2.85},{"x":-1.18,"y":2.8},{"x":-1.28,"y":2.85},{"x":-1.39,"y":2.8},{"x":-1.52,"y":2.85},{"x":-1.68,"y":2.8},{"x":-1.88,"y":2.85},{"x":-2.12,"y":2.8},{"x":-2.45,"y":2.85},
{"x":-1.02,"y":2.93},{"x":-1.07,"y":2.98},{"x":-1.15,"y":2.93},{"x":-1.24,"y":2.98},{"x":-1.35,"y":2.93},{"x":-1.47,"y":2.98},{"x":-1.62,"y":2.93},{"x":-1.8,"y":2.98},{"x":-2.02,"y":2.93},{"x":-2.3,"y":2.98},{"x":-2.68,"y":2.93},
{"x":-1.04,"y":3.06},{"x":-1.12,"y":3.11},{"x":-1.21,"y":3.06},{"x":-1.31,"y":3.11},{"x":-1.43,"y":3.06},{"x":-1.56,"y":3.11},{"x":-1.72,"y":3.06},{"x":-1.92,"y":3.11},{"x":-2.18,"y":3.06},{"x":-2.55,"y":3.11},
{"x":-1.02,"y":3.2},{"x":-1.09,"y":3.25},{"x":-1.17,"y":3.2},{"x":-1.26,"y":3.25},{"x":-1.37,"y":3.2},{"x":-1.5,"y":3.25},{"x":-1.66,"y":3.2},{"x":-1.86,"y":3.25},{"x":-2.1,"y":3.2},{"x":-2.42,"y":3.25},
{"x":-1.05,"y":3.33},{"x":-1.13,"y":3.38},{"x":-1.22,"y":3.33},{"x":-1.32,"y":3.38},{"x":-1.44,"y":3.33},{"x":-1.58,"y":3.38},{"x":-1.75,"y":3.33},{"x":-1.97,"y":3.38},{"x":-2.28,"y":3.33},{"x":-2.62,"y":3.38},
{"x":-1.03,"y":3.46},{"x":-1.1,"y":3.51},{"x":-1.18,"y":3.46},{"x":-1.28,"y":3.51},{"x":-1.39,"y":3.46},{"x":-1.52,"y":3.51},{"x":-1.68,"y":3.46},{"x":-1.88,"y":3.51},{"x":-2.14,"y":3.46},{"x":-2.48,"y":3.51},
{"x":-1.02,"y":3.6},{"x":-1.07,"y":3.65},{"x":-1.15,"y":3.6},{"x":-1.24,"y":3.65},{"x":-1.35,"y":3.6},{"x":-1.47,"y":3.65},{"x":-1.62,"y":3.6},{"x":-1.82,"y":3.65},{"x":-2.05,"y":3.6},{"x":-2.38,"y":3.65},
{"x":-1.04,"y":3.73},{"x":-1.12,"y":3.78},{"x":-1.21,"y":3.73},{"x":-1.31,"y":3.78},{"x":-1.43,"y":3.73},{"x":-1.56,"y":3.78},{"x":-1.74,"y":3.73},{"x":-1.95,"y":3.78},{"x":-2.22,"y":3.73},{"x":-2.6,"y":3.78},
{"x":-1.02,"y":3.86},{"x":-1.09,"y":3.91},{"x":-1.17,"y":3.86},{"x":-1.27,"y":3.91},{"x":-1.38,"y":3.86},{"x":-1.51,"y":3.91},{"x":-1.67,"y":3.86},{"x":-1.87,"y":3.91},{"x":-2.12,"y":3.86},{"x":-2.45,"y":3.91},
{"x":-1.05,"y":4},{"x":-1.13,"y":4.05},{"x":-1.22,"y":4},{"x":-1.33,"y":4.05},{"x":-1.45,"y":4},{"x":-1.6,"y":4.05},{"x":-1.78,"y":4},{"x":-2,"y":4.05},{"x":-2.3,"y":4},
{"x":-1.03,"y":4.13},{"x":-1.1,"y":4.18},{"x":-1.19,"y":4.13},{"x":-1.29,"y":4.18},{"x":-1.41,"y":4.13},{"x":-1.55,"y":4.18},{"x":-1.72,"y":4.13},{"x":-1.93,"y":4.18},{"x":-2.2,"y":4.13},{"x":-2.55,"y":4.18},
{"x":-1.06,"y":4.27},{"x":-1.15,"y":4.32},{"x":-1.25,"y":4.27},{"x":-1.36,"y":4.32},{"x":-1.49,"y":4.27},{"x":-1.64,"y":4.32},{"x":-1.82,"y":4.27},{"x":-2.05,"y":4.32},{"x":-2.35,"y":4.27},
{"x":-1.1,"y":4.4},{"x":-1.2,"y":4.45},{"x":-1.31,"y":4.4},{"x":-1.44,"y":4.45},{"x":-1.58,"y":4.4},{"x":-1.75,"y":4.45},{"x":-1.96,"y":4.4},{"x":-2.22,"y":4.45},{"x":-2.5,"y":4.4},
{"x":-1.25,"y":4.55},{"x":-1.38,"y":4.6},{"x":-1.53,"y":4.55},{"x":-1.7,"y":4.6},{"x":-1.9,"y":4.55},{"x":-2.1,"y":4.6},{"x":-2.35,"y":4.55},
{"x":-1.45,"y":4.68},{"x":-1.68,"y":4.66},{"x":-1.95,"y":4.68},{"x":-2.2,"y":4.62},
{"x":-4.39,"y":5.2},{"x":-4.08,"y":5.2},{"x":-3.83,"y":5.2},{"x":-3.11,"y":5.2},{"x":-2.97,"y":5.2},{"x":-3.16,"y":5.04},{"x":-3.4,"y":4.85},{"x":-3.25,"y":4.77},{"x":-3.34,"y":4.63},{"x":-3.11,"y":4.63},{"x":-2.59,"y":4.85},{"x":-2.42,"y":4.85},{"x":-1.7,"y":4.85},{"x":-3.75,"y":4.14},{"x":-3.46,"y":4.14},{"x":-3.11,"y":3.89},{"x":-3.16,"y":3.59},{"x":-4.56,"y":3.49},{"x":-4.62,"y":2.9},{"x":-4.27,"y":2.01},{"x":-4.43,"y":1.76},{"x":-3.79,"y":1.87},{"x":-3.79,"y":1.54},{"x":-3,"y":1.63},{"x":-3.02,"y":1.47},{"x":-2.53,"y":1.34},
{"x":1.03,"y":1.35},{"x":1.1,"y":1.4},{"x":1.18,"y":1.35},{"x":1.27,"y":1.4},{"x":1.37,"y":1.35},{"x":1.48,"y":1.4},{"x":1.6,"y":1.35},{"x":1.75,"y":1.4},{"x":1.92,"y":1.35},{"x":2.12,"y":1.4},{"x":2.35,"y":1.35},{"x":2.65,"y":1.4},{"x":3,"y":1.35},{"x":3.5,"y":1.4},{"x":4.2,"y":1.35},
{"x":1.05,"y":1.47},{"x":1.13,"y":1.52},{"x":1.22,"y":1.47},{"x":1.32,"y":1.52},{"x":1.43,"y":1.47},{"x":1.55,"y":1.52},{"x":1.68,"y":1.47},{"x":1.84,"y":1.52},{"x":2.02,"y":1.47},{"x":2.24,"y":1.52},{"x":2.5,"y":1.47},{"x":2.8,"y":1.52},{"x":3.2,"y":1.47},{"x":3.8,"y":1.52},{"x":4.44,"y":1.49},
{"x":1.02,"y":1.6},{"x":1.09,"y":1.65},{"x":1.17,"y":1.6},{"x":1.26,"y":1.65},{"x":1.36,"y":1.6},{"x":1.47,"y":1.65},{"x":1.6,"y":1.6},{"x":1.75,"y":1.65},{"x":1.92,"y":1.6},{"x":2.12,"y":1.65},{"x":2.35,"y":1.6},{"x":2.62,"y":1.65},{"x":2.95,"y":1.6},{"x":3.4,"y":1.65},
{"x":1.04,"y":1.73},{"x":1.12,"y":1.78},{"x":1.21,"y":1.73},{"x":1.31,"y":1.78},{"x":1.42,"y":1.73},{"x":1.55,"y":1.78},{"x":1.7,"y":1.73},{"x":1.87,"y":1.78},{"x":2.06,"y":1.73},{"x":2.28,"y":1.78},{"x":2.55,"y":1.73},{"x":2.88,"y":1.78},{"x":3.3,"y":1.73},{"x":3.9,"y":1.78},
{"x":1.02,"y":1.86},{"x":1.08,"y":1.91},{"x":1.16,"y":1.86},{"x":1.25,"y":1.91},{"x":1.35,"y":1.86},{"x":1.47,"y":1.91},{"x":1.61,"y":1.86},{"x":1.77,"y":1.91},{"x":1.95,"y":1.86},{"x":2.16,"y":1.91},{"x":2.4,"y":1.86},{"x":2.7,"y":1.91},{"x":3.05,"y":1.86},{"x":3.55,"y":1.91},{"x":4.96,"y":1.84},
{"x":1.05,"y":2},{"x":1.13,"y":2.05},{"x":1.22,"y":2},{"x":1.32,"y":2.05},{"x":1.44,"y":2},{"x":1.58,"y":2.05},{"x":1.74,"y":2},{"x":1.92,"y":2.05},{"x":2.12,"y":2},{"x":2.35,"y":2.05},{"x":2.62,"y":2},{"x":2.95,"y":2.05},{"x":3.35,"y":2},{"x":3.6,"y":2.06},
{"x":1.03,"y":2.13},{"x":1.1,"y":2.18},{"x":1.18,"y":2.13},{"x":1.28,"y":2.18},{"x":1.39,"y":2.13},{"x":1.52,"y":2.18},{"x":1.67,"y":2.13},{"x":1.84,"y":2.18},{"x":2.04,"y":2.13},{"x":2.27,"y":2.18},{"x":2.52,"y":2.13},{"x":2.82,"y":2.18},{"x":3.18,"y":2.13},{"x":3.7,"y":2.18},{"x":4.2,"y":2.13},
{"x":1.02,"y":2.26},{"x":1.07,"y":2.31},{"x":1.15,"y":2.26},{"x":1.24,"y":2.31},{"x":1.34,"y":2.26},{"x":1.46,"y":2.31},{"x":1.6,"y":2.26},{"x":1.76,"y":2.31},{"x":1.94,"y":2.26},{"x":2.15,"y":2.31},{"x":2.4,"y":2.26},{"x":2.7,"y":2.31},{"x":3.05,"y":2.26},{"x":3.45,"y":2.31},{"x":4,"y":2.26},
{"x":1.04,"y":2.4},{"x":1.12,"y":2.45},{"x":1.21,"y":2.4},{"x":1.31,"y":2.45},{"x":1.43,"y":2.4},{"x":1.56,"y":2.45},{"x":1.72,"y":2.4},{"x":1.9,"y":2.45},{"x":2.1,"y":2.4},{"x":2.34,"y":2.45},{"x":2.62,"y":2.4},{"x":2.95,"y":2.45},{"x":3.32,"y":2.4},{"x":3.85,"y":2.45},
{"x":1.02,"y":2.53},{"x":1.09,"y":2.58},{"x":1.17,"y":2.53},{"x":1.26,"y":2.58},{"x":1.37,"y":2.53},{"x":1.5,"y":2.58},{"x":1.65,"y":2.53},{"x":1.82,"y":2.58},{"x":2.02,"y":2.53},{"x":2.25,"y":2.58},{"x":2.5,"y":2.53},{"x":2.8,"y":2.58},{"x":3.15,"y":2.53},{"x":3.6,"y":2.58},{"x":4.3,"y":2.53},
{"x":1.05,"y":2.66},{"x":1.13,"y":2.71},{"x":1.22,"y":2.66},{"x":1.32,"y":2.71},{"x":1.44,"y":2.66},{"x":1.58,"y":2.71},{"x":1.74,"y":2.66},{"x":1.93,"y":2.71},{"x":2.14,"y":2.66},{"x":2.38,"y":2.71},{"x":2.66,"y":2.66},{"x":3,"y":2.71},{"x":3.4,"y":2.66},{"x":3.95,"y":2.71},{"x":4.6,"y":2.66},
{"x":1.03,"y":2.8},{"x":1.1,"y":2.85},{"x":1.18,"y":2.8},{"x":1.28,"y":2.85},{"x":1.4,"y":2.8},{"x":1.53,"y":2.85},{"x":1.69,"y":2.8},{"x":1.87,"y":2.85},{"x":2.08,"y":2.8},{"x":2.32,"y":2.85},{"x":2.6,"y":2.8},{"x":2.92,"y":2.85},{"x":3.3,"y":2.8},{"x":3.75,"y":2.85},{"x":4.4,"y":2.8},
{"x":1.02,"y":2.93},{"x":1.08,"y":2.98},{"x":1.16,"y":2.93},{"x":1.25,"y":2.98},{"x":1.36,"y":2.93},{"x":1.49,"y":2.98},{"x":1.64,"y":2.93},{"x":1.81,"y":2.98},{"x":2,"y":2.93},{"x":2.22,"y":2.98},{"x":2.48,"y":2.93},{"x":2.78,"y":2.98},{"x":3.12,"y":2.93},{"x":3.55,"y":2.98},{"x":4.1,"y":2.93},{"x":4.8,"y":2.98},
{"x":1.04,"y":3.06},{"x":1.12,"y":3.11},{"x":1.21,"y":3.06},{"x":1.31,"y":3.11},{"x":1.43,"y":3.06},{"x":1.57,"y":3.11},{"x":1.73,"y":3.06},{"x":1.91,"y":3.11},{"x":2.12,"y":3.06},{"x":2.36,"y":3.11},{"x":2.64,"y":3.06},{"x":2.96,"y":3.11},{"x":3.35,"y":3.06},{"x":3.85,"y":3.11},{"x":4.5,"y":3.06},
{"x":1.02,"y":3.2},{"x":1.09,"y":3.25},{"x":1.17,"y":3.2},{"x":1.27,"y":3.25},{"x":1.38,"y":3.2},{"x":1.51,"y":3.25},{"x":1.66,"y":3.2},{"x":1.84,"y":3.25},{"x":2.04,"y":3.2},{"x":2.28,"y":3.25},{"x":2.55,"y":3.2},{"x":2.88,"y":3.25},{"x":3.25,"y":3.2},{"x":3.7,"y":3.25},{"x":4.25,"y":3.2},{"x":4.9,"y":3.25},{"x":5.98,"y":3.19},
{"x":1.05,"y":3.33},{"x":1.14,"y":3.38},{"x":1.24,"y":3.33},{"x":1.35,"y":3.38},{"x":1.48,"y":3.33},{"x":1.63,"y":3.38},{"x":1.8,"y":3.33},{"x":2,"y":3.38},{"x":2.23,"y":3.33},{"x":2.5,"y":3.38},{"x":2.82,"y":3.33},{"x":3.2,"y":3.38},{"x":3.65,"y":3.33},{"x":4.15,"y":3.38},{"x":4.7,"y":3.33},{"x":5.4,"y":3.38},
{"x":1.03,"y":3.46},{"x":1.11,"y":3.51},{"x":1.2,"y":3.46},{"x":1.3,"y":3.51},{"x":1.42,"y":3.46},{"x":1.56,"y":3.51},{"x":1.72,"y":3.46},{"x":1.9,"y":3.51},{"x":2.12,"y":3.46},{"x":2.38,"y":3.51},{"x":2.68,"y":3.46},{"x":3.05,"y":3.51},{"x":3.5,"y":3.46},{"x":4,"y":3.51},{"x":4.55,"y":3.46},{"x":5.2,"y":3.51},
{"x":1.02,"y":3.6},{"x":1.1,"y":3.65},{"x":1.2,"y":3.6},{"x":1.32,"y":3.65},{"x":1.46,"y":3.6},{"x":1.62,"y":3.65},{"x":1.8,"y":3.6},{"x":2.02,"y":3.65},{"x":2.28,"y":3.6},{"x":2.58,"y":3.65},{"x":2.92,"y":3.6},{"x":3.35,"y":3.65},{"x":3.85,"y":3.6},{"x":4.4,"y":3.65},{"x":5,"y":3.6},{"x":5.95,"y":3.6},
{"x":1.04,"y":3.73},{"x":1.13,"y":3.78},{"x":1.24,"y":3.73},{"x":1.37,"y":3.78},{"x":1.52,"y":3.73},{"x":1.7,"y":3.78},{"x":1.9,"y":3.73},{"x":2.14,"y":3.78},{"x":2.42,"y":3.73},{"x":2.75,"y":3.78},{"x":3.15,"y":3.73},{"x":3.6,"y":3.78},{"x":4.1,"y":3.73},{"x":4.7,"y":3.78},{"x":5.3,"y":3.73},
{"x":1.06,"y":3.86},{"x":1.16,"y":3.91},{"x":1.28,"y":3.86},{"x":1.42,"y":3.91},{"x":1.58,"y":3.86},{"x":1.77,"y":3.91},{"x":1.99,"y":3.86},{"x":2.25,"y":3.91},{"x":2.56,"y":3.86},{"x":2.92,"y":3.91},{"x":3.35,"y":3.86},{"x":3.85,"y":3.91},{"x":4.4,"y":3.86},{"x":5,"y":3.91},{"x":5.66,"y":3.87},
{"x":1.03,"y":4},{"x":1.15,"y":4.05},{"x":1.3,"y":4},{"x":1.48,"y":4.05},{"x":1.68,"y":4},{"x":1.92,"y":4.05},{"x":2.2,"y":4},{"x":2.52,"y":4.05},{"x":2.9,"y":4},{"x":3.3,"y":4.05},{"x":3.75,"y":4},{"x":4.3,"y":4.05},{"x":4.9,"y":4},{"x":5.5,"y":4.05},{"x":5.83,"y":3.95},
{"x":1.1,"y":4.13},{"x":1.25,"y":4.18},{"x":1.42,"y":4.13},{"x":1.62,"y":4.18},{"x":1.86,"y":4.13},{"x":2.14,"y":4.18},{"x":2.46,"y":4.13},{"x":2.82,"y":4.18},{"x":3.25,"y":4.13},{"x":3.7,"y":4.18},{"x":4.2,"y":4.13},{"x":4.75,"y":4.18},
{"x":1.2,"y":4.26},{"x":1.38,"y":4.31},{"x":1.6,"y":4.26},{"x":1.85,"y":4.31},{"x":2.12,"y":4.26},{"x":2.45,"y":4.31},{"x":2.8,"y":4.26},{"x":3.2,"y":4.31},{"x":3.65,"y":4.26},{"x":4.1,"y":4.31},
{"x":1.18,"y":4.42},{"x":1.4,"y":4.4},{"x":1.65,"y":4.45},{"x":1.95,"y":4.4},{"x":2.3,"y":4.45},{"x":2.7,"y":4.4},{"x":3.1,"y":4.45},{"x":3.55,"y":4.4},{"x":4,"y":4.45},
{"x":1.5,"y":4.52},{"x":1.8,"y":4.57},{"x":2.15,"y":4.52},{"x":2.5,"y":4.57},{"x":2.95,"y":4.52},{"x":3.4,"y":4.57},
{"x":3.14,"y":5.2},{"x":1.86,"y":5.04},{"x":3.3,"y":4.83},{"x":2.25,"y":4.68},{"x":2.58,"y":4.64},{"x":4.41,"y":4.78},{"x":1.75,"y":4.65},{"x":2.9,"y":4.72}
],
"la":[
{"gene":"CDKN1A","x":-0.69,"y":0.15,"lx":-1.6,"ly":0.4},
{"gene":"TIGAR","x":-0.44,"y":0.15,"lx":-1.36,"ly":0.8},
{"gene":"PPM1D","x":0.1,"y":0.12,"lx":0.44,"ly":0.44},
{"gene":"ACER2","x":0.51,"y":0.15,"lx":0.41,"ly":0.87},
{"gene":"TP53INP1","x":1.25,"y":0.69,"lx":1.48,"ly":1.27}
],
"lb":[
{"gene":"CDKN1A","x":5.77,"y":4.31,"lx":5.55,"ly":4.67},
{"gene":"TP53INP1","x":1.69,"y":2.77,"lx":1.72,"ly":3.15},
{"gene":"ACER2","x":1.37,"y":2.12,"lx":1.35,"ly":2.5},
{"gene":"PPM1D","x":0.37,"y":1.44,"lx":0.38,"ly":1.81},
{"gene":"TIGAR","x":0.52,"y":0.55,"lx":0.52,"ly":0.93}
]
},
"vconcat":[
{
"title":{"text":"A","font":"DejaVu Serif","fontSize":22,"fontWeight":"bold","color":"#000000","anchor":"start","frame":"bounds","dx":-75,"offset":-8},
"resolve":{"legend":{"color":"independent"}},
"vconcat":[
{
"width":385,"height":308,
"title":{"text":"Deletion of TP53 gene in MDA-MB-231 TNBC cell line","font":"Lato","fontSize":13.5,"fontWeight":"bold","color":"#1a1a1a","anchor":"middle","dx":-16,"offset":12},
"layer":[
{"data":{"name":"a"},"transform":[{"calculate":"datum.y>1.3&&datum.x>1?'Upregulated':(datum.y>1.3&&datum.x<-1?'Downregulated':'NS')","as":"g"}],
 "mark":{"type":"circle","size":34,"opacity":0.78},
 "encoding":{
  "x":{"field":"x","type":"quantitative","title":"logFC","scale":{"domain":[-6.6,6.6],"nice":false,"zero":false},"axis":{"values":[-6,-5,-4,-3,-2,-1,0,1,2,3,4,5,6],"labelExpr":"datum.value%2===0?''+datum.value:''","gridColor":{"condition":{"test":"datum.value%2!==0","value":"#F3F3F3"},"value":"#E6E6E6"},"tickOpacity":{"condition":{"test":"datum.value%2!==0","value":0},"value":1},"labelPadding":2,"titlePadding":3}},
  "y":{"field":"y","type":"quantitative","title":"-log10(adj.P.Val)","scale":{"domain":[-0.22,4.65],"nice":false,"zero":false},"axis":{"values":[0,0.5,1,1.5,2,2.5,3,3.5,4,4.5],"labelExpr":"datum.value%1===0?''+datum.value:''","gridColor":{"condition":{"test":"datum.value%1!==0","value":"#F3F3F3"},"value":"#E6E6E6"},"tickOpacity":{"condition":{"test":"datum.value%1!==0","value":0},"value":1},"labelPadding":3,"titlePadding":6}},
  "color":{"field":"g","type":"nominal","scale":{"domain":["Upregulated","NS","Downregulated"],"range":["#FFA366","#BDBDBD","#22ADF5"]},"legend":{"title":null,"orient":"none","legendX":405,"legendY":94,"symbolType":"circle","symbolSize":160,"symbolOpacity":1,"symbolStrokeWidth":0,"rowPadding":11,"labelOffset":5}}
 }},
{"data":{"values":[{}]},"mark":{"type":"rule","strokeDash":[4,3],"color":"#333333","strokeWidth":0.9},"encoding":{"x":{"datum":-1}}},
{"data":{"values":[{}]},"mark":{"type":"rule","strokeDash":[4,3],"color":"#333333","strokeWidth":0.9},"encoding":{"x":{"datum":1}}},
{"data":{"values":[{}]},"mark":{"type":"rule","strokeDash":[4,3],"color":"#333333","strokeWidth":0.9},"encoding":{"y":{"datum":1.3}}},
{"data":{"name":"la"},"mark":{"type":"rule","color":"#333333","strokeWidth":0.9},"encoding":{"x":{"field":"x","type":"quantitative"},"y":{"field":"y","type":"quantitative"},"x2":{"field":"lx"},"y2":{"field":"ly"}}},
{"data":{"name":"la"},"mark":{"type":"point","shape":"circle","filled":true,"fill":"#B5121B","stroke":"#1a1a1a","strokeWidth":0.9,"size":38,"opacity":1},"encoding":{"x":{"field":"x","type":"quantitative"},"y":{"field":"y","type":"quantitative"}}},
{"data":{"name":"la"},"transform":[{"calculate":"(7.3*length(datum.gene)+5)/58.3","as":"hw"},{"calculate":"datum.lx-datum.hw","as":"x1"},{"calculate":"datum.lx+datum.hw","as":"x2"},{"calculate":"datum.ly-8/63.2","as":"y1"},{"calculate":"datum.ly+8/63.2","as":"y2"}],"mark":{"type":"rect","fill":"white","stroke":"#333333","strokeWidth":0.9,"cornerRadius":3},"encoding":{"x":{"field":"x1","type":"quantitative"},"x2":{"field":"x2"},"y":{"field":"y1","type":"quantitative"},"y2":{"field":"y2"}}},
{"data":{"name":"la"},"mark":{"type":"text","font":"Liberation Sans","fontSize":12,"color":"#333333"},"encoding":{"x":{"field":"lx","type":"quantitative"},"y":{"field":"ly","type":"quantitative"},"text":{"field":"gene"}}}
]
}
]
},
{
"title":{"text":"B","font":"DejaVu Serif","fontSize":22,"fontWeight":"bold","color":"#000000","anchor":"start","frame":"bounds","dx":-75,"offset":5},
"resolve":{"legend":{"color":"independent"}},
"vconcat":[
{
"width":379,"height":293,
"title":{"text":"TP53-deleted MDA-MB-231 TNBC cell line treated with etoposide","font":"Lato","fontSize":13.5,"fontWeight":"bold","color":"#1a1a1a","anchor":"middle","dx":-8,"offset":14},
"layer":[
{"data":{"name":"b"},"transform":[{"calculate":"datum.y>1.3&&datum.x>1?'Upregulated':(datum.y>1.3&&datum.x<-1?'Downregulated':'NS')","as":"g"}],
 "mark":{"type":"circle","size":34,"opacity":0.78},
 "encoding":{
  "x":{"field":"x","type":"quantitative","title":"logFC","scale":{"domain":[-6.6,6.6],"nice":false,"zero":false},"axis":{"values":[-6,-5,-4,-3,-2,-1,0,1,2,3,4,5,6],"labelExpr":"datum.value%2===0?''+datum.value:''","gridColor":{"condition":{"test":"datum.value%2!==0","value":"#F3F3F3"},"value":"#E6E6E6"},"tickOpacity":{"condition":{"test":"datum.value%2!==0","value":0},"value":1},"labelPadding":2,"titlePadding":3}},
  "y":{"field":"y","type":"quantitative","title":"-log10(adj.P.Val)","scale":{"domain":[-0.26,5.28],"nice":false,"zero":false},"axis":{"values":[0,0.5,1,1.5,2,2.5,3,3.5,4,4.5,5],"labelExpr":"datum.value%1===0?''+datum.value:''","gridColor":{"condition":{"test":"datum.value%1!==0","value":"#F3F3F3"},"value":"#E6E6E6"},"tickOpacity":{"condition":{"test":"datum.value%1!==0","value":0},"value":1},"labelPadding":3,"titlePadding":6}},
  "color":{"field":"g","type":"nominal","scale":{"domain":["Upregulated","NS","Downregulated"],"range":["#FFA366","#BDBDBD","#22ADF5"]},"legend":{"title":null,"orient":"none","legendX":403,"legendY":88,"symbolType":"circle","symbolSize":160,"symbolOpacity":1,"symbolStrokeWidth":0,"rowPadding":11,"labelOffset":5}}
 }},
{"data":{"values":[{}]},"mark":{"type":"rule","strokeDash":[4,3],"color":"#333333","strokeWidth":0.9},"encoding":{"x":{"datum":-1}}},
{"data":{"values":[{}]},"mark":{"type":"rule","strokeDash":[4,3],"color":"#333333","strokeWidth":0.9},"encoding":{"x":{"datum":1}}},
{"data":{"values":[{}]},"mark":{"type":"rule","strokeDash":[4,3],"color":"#333333","strokeWidth":0.9},"encoding":{"y":{"datum":1.3}}},
{"data":{"name":"lb"},"mark":{"type":"rule","color":"#333333","strokeWidth":0.9},"encoding":{"x":{"field":"x","type":"quantitative"},"y":{"field":"y","type":"quantitative"},"x2":{"field":"lx"},"y2":{"field":"ly"}}},
{"data":{"name":"lb"},"mark":{"type":"point","shape":"circle","filled":true,"fill":"#B5121B","stroke":"#1a1a1a","strokeWidth":0.9,"size":38,"opacity":1},"encoding":{"x":{"field":"x","type":"quantitative"},"y":{"field":"y","type":"quantitative"}}},
{"data":{"name":"lb"},"transform":[{"calculate":"(7.3*length(datum.gene)+5)/57.4","as":"hw"},{"calculate":"datum.lx-datum.hw","as":"x1"},{"calculate":"datum.lx+datum.hw","as":"x2"},{"calculate":"datum.ly-8/52.9","as":"y1"},{"calculate":"datum.ly+8/52.9","as":"y2"}],"mark":{"type":"rect","fill":"white","stroke":"#333333","strokeWidth":0.9,"cornerRadius":3},"encoding":{"x":{"field":"x1","type":"quantitative"},"x2":{"field":"x2"},"y":{"field":"y1","type":"quantitative"},"y2":{"field":"y2"}}},
{"data":{"name":"lb"},"mark":{"type":"text","font":"Liberation Sans","fontSize":12,"color":"#333333"},"encoding":{"x":{"field":"lx","type":"quantitative"},"y":{"field":"ly","type":"quantitative"},"text":{"field":"gene"}}}
]
}
]
}
],
"resolve":{"legend":{"color":"independent"}}
}
